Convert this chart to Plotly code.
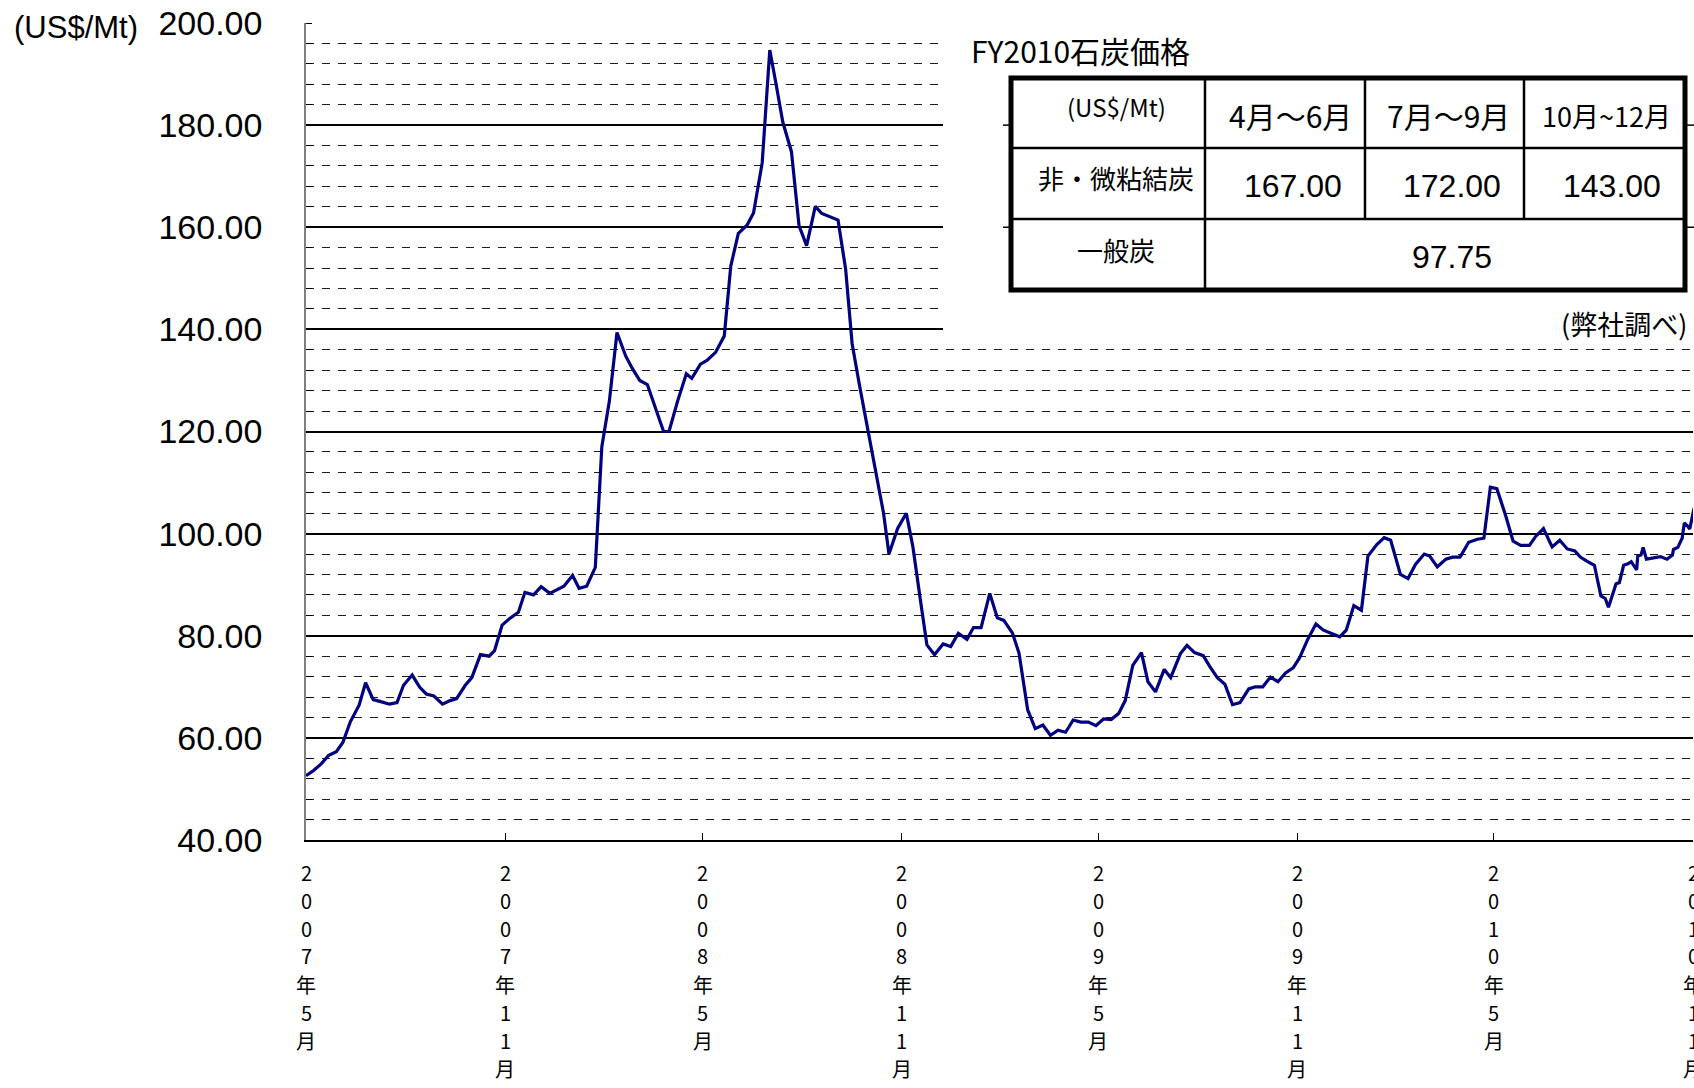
import plotly.graph_objects as go
import pandas as pd

# ---------------- data ----------------
start_date = "2007-05-01"
days = [0, 7, 14, 21, 28, 34, 41, 49, 55, 62, 69, 77, 84, 90, 98, 105, 111, 118, 126, 133,
        139, 147, 153, 161, 169, 174, 181, 188, 196, 202, 210, 217, 225, 231, 238, 246, 252, 259,
        267, 273, 280, 287, 295, 301, 308, 315, 322, 330, 335, 343, 351, 356, 364, 370, 378, 386,
        392, 399, 407, 413, 421, 428, 434, 440, 448, 455, 462, 470, 476, 484, 491, 498, 504, 511,
        519, 527, 533, 538, 546, 554, 560, 567, 573, 580, 588, 595, 602, 610, 616, 623, 631, 638,
        644, 652, 658, 666, 673, 680, 687, 694, 701, 708, 715, 722, 729, 736, 743, 750, 756, 763,
        771, 777, 784, 792, 798, 807, 813, 820, 828, 834, 841, 848, 855, 862, 870, 876, 883, 890,
        897, 904, 911, 917, 924, 932, 939, 947, 954, 960, 967, 974, 980, 988, 995, 1001, 1010,
        1017, 1024, 1032, 1037, 1044, 1052, 1058, 1065, 1073, 1081, 1087, 1093, 1099, 1107, 1114,
        1121, 1129, 1135, 1142, 1150, 1157, 1164, 1171, 1176, 1182, 1189, 1195, 1199, 1202, 1206,
        1209, 1212, 1216, 1220, 1223, 1228, 1229, 1232, 1234, 1237, 1244, 1250, 1256, 1261, 1262,
        1266, 1270, 1272, 1275, 1277, 1281]
prices = [52.6, 53.6, 54.9, 56.6, 57.3, 59.1, 63.2, 66.4, 70.8, 67.5, 67.1, 66.6, 66.9, 70.3,
          72.3, 69.9, 68.6, 68.2, 66.6, 67.3, 67.7, 70.3, 71.8, 76.3, 76.0, 77.1, 82.1, 83.4, 84.6,
          88.5, 88.0, 89.6, 88.3, 89.0, 89.7, 91.8, 89.3, 89.7, 93.4, 117.0, 126.0, 139.4, 134.8,
          132.4, 130.0, 129.2, 124.7, 120.0, 120.0, 126.0, 131.3, 130.4, 133.2, 133.9, 135.5,
          138.7, 152.4, 158.8, 160.4, 162.8, 172.6, 194.7, 187.8, 180.6, 174.8, 160.3, 156.4,
          164.1, 162.7, 162.0, 161.4, 151.8, 137.2, 128.8, 119.6, 111.1, 104.0, 96.0, 101.0,
          104.0, 97.5, 87.0, 78.2, 76.3, 78.4, 77.9, 80.5, 79.3, 81.6, 81.6, 88.3, 83.5, 83.0,
          80.5, 76.6, 65.5, 61.8, 62.5, 60.5, 61.5, 61.1, 63.5, 63.1, 63.1, 62.4, 63.7, 63.6,
          64.8, 67.3, 74.2, 76.7, 71.0, 69.0, 73.4, 71.8, 76.5, 78.1, 76.7, 76.1, 74.0, 71.8,
          70.5, 66.5, 66.9, 69.6, 70.0, 70.0, 71.9, 71.0, 72.7, 73.7, 75.7, 79.1, 82.3, 81.1,
          80.4, 79.8, 81.1, 85.9, 85.0, 95.6, 97.8, 99.2, 98.7, 92.0, 91.2, 94.0, 96.0, 95.6,
          93.5, 95.0, 95.4, 95.4, 98.3, 98.9, 99.1, 109.1, 108.8, 103.6, 98.5, 97.7, 97.7, 99.5,
          101.0, 97.4, 98.7, 97.0, 96.6, 95.4, 94.6, 93.8, 87.8, 87.3, 85.6, 88.0, 90.2, 90.4,
          93.8, 94.1, 94.5, 92.9, 95.6, 95.8, 97.3, 95.0, 95.3, 95.5, 95.0, 95.8, 96.9, 97.3,
          99.1, 102.1, 101.5, 100.9, 105.0]

tick_dates = ["2007-05-01", "2007-11-01", "2008-05-01", "2008-11-01",
              "2009-05-01", "2009-11-01", "2010-05-01", "2010-11-01"]
tick_labels = ["2007年5月", "2007年11月", "2008年5月", "2008年11月",
               "2009年5月", "2009年11月", "2010年5月", "2010年11月"]
y_ticks = [40, 60, 80, 100, 120, 140, 160, 180, 200]

table_title = "FY2010石炭価格"
table_header = ["(US$/Mt)", "4月～6月", "7月～9月", "10月~12月"]
row_coking = ["非・微粘結炭", "167.00", "172.00", "143.00"]
row_thermal = ["一般炭", "97.75"]
source_note = "(弊社調べ)"
unit_label = "(US$/Mt)"

# ---------------- figure ----------------
dates = [pd.Timestamp(start_date) + pd.Timedelta(days=d) for d in days]

W, H = 1694, 1088
L, R, T, B = 306, 1, 23, 248
PW = W - L - R
PH = H - T - B


def px(x):
    return (x - L) / PW


def py(y):
    return (H - B - y) / PH


JP = "Noto Sans CJK JP"
AR = "Liberation Sans, Arial"

fig = go.Figure()
fig.add_trace(go.Scatter(x=dates, y=prices, mode="lines",
                         line=dict(color="#000080", width=3.2),
                         hoverinfo="skip", showlegend=False))

fig.update_layout(
    width=W, height=H,
    margin=dict(l=L, r=R, t=T, b=B, pad=0, autoexpand=False),
    paper_bgcolor="white", plot_bgcolor="white",
    showlegend=False,
)

fig.update_xaxes(
    type="date",
    range=[tick_dates[0], tick_dates[-1]],
    tickvals=tick_dates,
    showticklabels=False,
    ticks="inside", ticklen=7, tickwidth=1.2, tickcolor="black",
    showline=True, linecolor="black", linewidth=1.5,
    showgrid=False, zeroline=False,
    automargin=False,
)

fig.update_yaxes(
    range=[40, 200],
    tickvals=y_ticks,
    tickformat=".2f",
    ticks="",
    showline=True, linecolor="#808080", linewidth=1.5,
    showgrid=True, gridcolor="black", gridwidth=1.5,
    zeroline=False,
    tickfont=dict(family=AR, size=34, color="black"),
    ticklabelstandoff=35,
    automargin=False,
    minor=dict(dtick=4, tick0=40, showgrid=True, gridcolor="#1e1e1e", gridwidth=1.4,
               griddash="8px,8px", ticks="inside", ticklen=6, tickcolor="black", tickwidth=1),
)

shapes = []
# white area behind the table block
shapes.append(dict(type="rect", xref="paper", yref="paper", x0=px(943), x1=px(W + 5),
                   y0=py(340), y1=py(-5), fillcolor="white", line=dict(width=0), layer="above"))
# short gridline stubs visible beside the table
for v in (180, 160):
    for a, b in ((1003, 1012), (1684, 1694)):
        shapes.append(dict(type="line", xref="paper", yref="y", x0=px(a), x1=px(b), y0=v, y1=v,
                           line=dict(color="black", width=1.5), layer="above"))
# table frame
tx0, tx1, ty0, ty1 = 1011, 1685, 78, 290
shapes.append(dict(type="rect", xref="paper", yref="paper", x0=px(tx0), x1=px(tx1),
                   y0=py(ty1), y1=py(ty0), fillcolor="white",
                   line=dict(color="black", width=5), layer="above"))
col_x = [1205, 1365, 1524]
row_y = [148, 219]
shapes.append(dict(type="line", xref="paper", yref="paper", x0=px(col_x[0]), x1=px(col_x[0]),
                   y0=py(ty0), y1=py(ty1), line=dict(color="black", width=2.5), layer="above"))
for cx in col_x[1:]:
    shapes.append(dict(type="line", xref="paper", yref="paper", x0=px(cx), x1=px(cx),
                       y0=py(ty0), y1=py(row_y[1]), line=dict(color="black", width=2.5),
                       layer="above"))
for ry in row_y:
    shapes.append(dict(type="line", xref="paper", yref="paper", x0=px(tx0), x1=px(tx1),
                       y0=py(ry), y1=py(ry), line=dict(color="black", width=2.5), layer="above"))
fig.update_layout(shapes=shapes)

ann = []


def add_text(text, x, y, size, family=JP, anchor="center"):
    ann.append(dict(text=text, xref="paper", yref="paper", x=px(x), y=py(y),
                    xanchor=anchor, yanchor="middle", showarrow=False,
                    font=dict(family=family, size=size, color="black")))


# vertical (stacked) x tick labels, one character per line, placed on the date axis
first_line_y = 872
line_step = 28
for d, lab in zip(tick_dates, tick_labels):
    for i, ch in enumerate(lab):
        ann.append(dict(text=ch, xref="x", yref="paper", x=d, y=py(first_line_y + i * line_step),
                        xanchor="center", yanchor="middle", showarrow=False,
                        font=dict(family=JP, size=20, color="black")))

add_text(unit_label, 12, 28, 31, family=AR, anchor="left")
add_text(table_title, 969, 50, 30, anchor="left")
# header row
add_text(table_header[0], 1116, 106, 24)
add_text(table_header[1], 1290, 115, 30)
add_text(table_header[2], 1448, 115, 30)
add_text(table_header[3], 1606, 115, 27)
# coking coal row
add_text(row_coking[0], 1116, 177, 26)
add_text(row_coking[1], 1293, 186, 32, family=AR)
add_text(row_coking[2], 1452, 186, 32, family=AR)
add_text(row_coking[3], 1612, 186, 32, family=AR)
# thermal coal row
add_text(row_thermal[0], 1116, 249, 26)
add_text(row_thermal[1], 1452, 257, 32, family=AR)
# source
add_text(source_note, 1689, 323, 27, anchor="right")
fig.update_layout(annotations=ann)

fig.write_html("out.html",
               config={"displayModeBar": False},
               post_script="document.body.style.margin='0';document.body.style.overflow='hidden';")
